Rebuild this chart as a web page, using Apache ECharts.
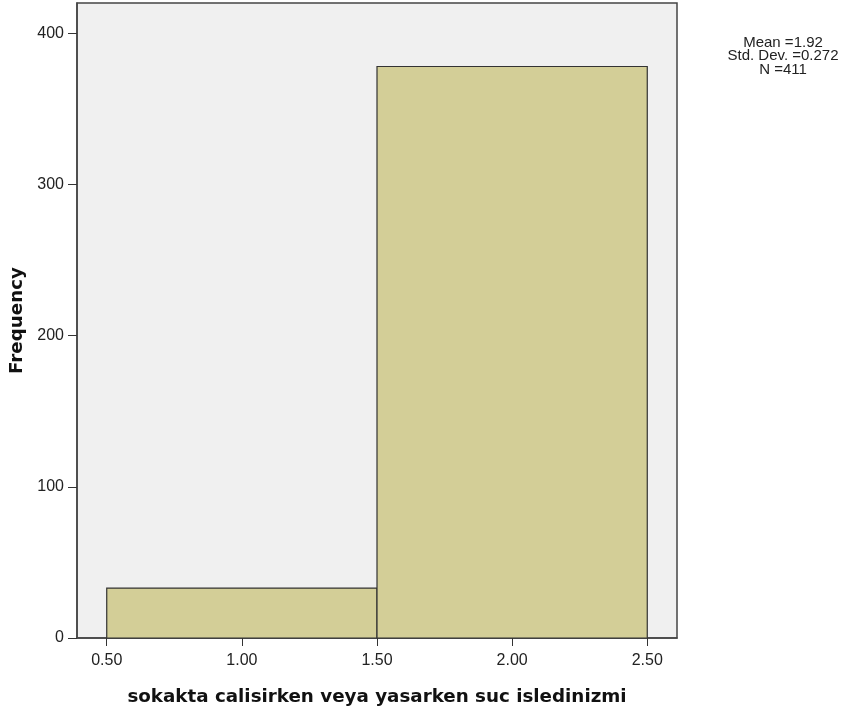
<!DOCTYPE html>
<html>
<head>
<meta charset="utf-8">
<script src="https://cdn.jsdelivr.net/npm/echarts@6/dist/echarts.min.js"></script>
<style>html,body{margin:0;padding:0;background:#fff}#c{width:844px;height:713px}</style>
</head>
<body>
<div id="c"></div>
<script>
const binStarts = [0.5, 1.5];
const binEnds = [1.5, 2.5];
const counts = [33, 378];
const xTicks = [0.5, 1.0, 1.5, 2.0, 2.5];
const yTicks = [0, 100, 200, 300, 400];
const statsLines = ['Mean =1.92', 'Std. Dev. =0.272', 'N =411'];
const xTitle = 'sokakta calisirken veya yasarken suc isledinizmi';
const yTitle = 'Frequency';

const data = binStarts.map((s, i) => [s, binEnds[i], counts[i]]);
const font = '"Liberation Sans", Arial, sans-serif';
const boldFont = '"DejaVu Sans", Verdana, sans-serif';

const chart = echarts.init(document.getElementById('c'), null, {renderer: 'canvas'});
chart.setOption({
  animation: false,
  backgroundColor: '#ffffff',
  grid: {
    left: 77, top: 3, right: 167, bottom: 75,
    containLabel: false, outerBoundsMode: 'none',
    show: true, backgroundColor: '#f0f0f0', borderColor: '#444', borderWidth: 1.5
  },
  xAxis: {
    type: 'value', min: 0.39, max: 2.61,
    name: xTitle, nameLocation: 'middle', nameGap: 50,
    nameTextStyle: {fontFamily: boldFont, fontSize: 18.3, fontWeight: 'bold', color: '#111'},
    axisLine: {show: true, onZero: false, lineStyle: {color: '#444', width: 1.5}},
    axisTick: {show: true, length: 8, customValues: xTicks, lineStyle: {color: '#333'}},
    axisLabel: {customValues: xTicks, margin: 15, fontFamily: font, fontSize: 16, color: '#222',
      formatter: v => v.toFixed(2)},
    splitLine: {show: false}
  },
  yAxis: {
    type: 'value', min: 0, max: 420,
    name: yTitle, nameLocation: 'middle', nameGap: 48,
    nameTextStyle: {fontFamily: boldFont, fontSize: 18.3, fontWeight: 'bold', color: '#111'},
    axisLine: {show: true, lineStyle: {color: '#444', width: 1.5}},
    axisTick: {show: true, length: 9, customValues: yTicks, lineStyle: {color: '#333'}},
    axisLabel: {customValues: yTicks, margin: 13, fontFamily: font, fontSize: 16, color: '#222'},
    splitLine: {show: false}
  },
  graphic: [{
    type: 'text', x: 783, y: 36,
    style: {
      text: statsLines.join('\n'), textAlign: 'center', lineHeight: 13.5,
      font: '15px ' + font, fill: '#222'
    }
  }],
  series: [{
    type: 'custom',
    data: data,
    encode: {x: [0, 1], y: 2},
    renderItem: function (params, api) {
      const p0 = api.coord([api.value(0), api.value(2)]);
      const p1 = api.coord([api.value(1), 0]);
      return {
        type: 'rect',
        shape: {x: p0[0], y: p0[1], width: p1[0] - p0[0], height: p1[1] - p0[1]},
        style: {fill: '#d3ce97', stroke: '#333', lineWidth: 1.2}
      };
    }
  }]
});
</script>
</body>
</html>
